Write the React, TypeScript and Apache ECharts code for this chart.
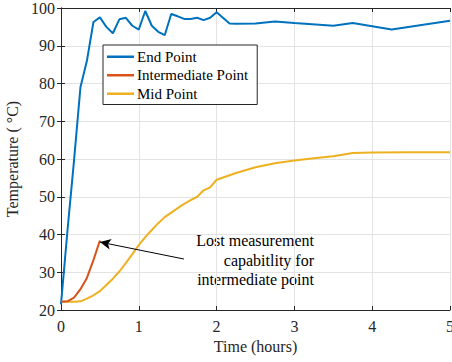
import React, { useEffect, useRef } from "react";
import * as echarts from "echarts";

const endTimes = [0, 0.083, 0.167, 0.25, 0.333, 0.417, 0.5, 0.583, 0.667, 0.75, 0.833, 0.917, 1.0, 1.083, 1.167, 1.25, 1.333, 1.417, 1.5, 1.583, 1.667, 1.75, 1.833, 1.917, 2.0, 2.167, 2.25, 2.5, 2.75, 3.0, 3.5, 3.75, 4.25, 5.0];
const endValues = [21.5, 41, 59.5, 79, 86, 96.3, 97.5, 95, 93.3, 97, 97.4, 95.3, 94.3, 99.2, 95.3, 93.7, 92.8, 98.4, 97.8, 97.1, 97.1, 97.4, 96.8, 97.4, 98.9, 95.9, 95.85, 95.9, 96.4, 96.0, 95.3, 96.0, 94.3, 96.6];

const interTimes = [0, 0.083, 0.167, 0.25, 0.333, 0.417, 0.5];
const interValues = [22.2, 22.3, 23.3, 25.5, 28.5, 33.2, 38.4];

const midTimes = [0, 0.083, 0.167, 0.25, 0.333, 0.417, 0.5, 0.583, 0.667, 0.75, 0.833, 0.917, 1.0, 1.083, 1.167, 1.25, 1.333, 1.417, 1.5, 1.583, 1.667, 1.75, 1.833, 1.917, 2.0, 2.25, 2.5, 2.75, 3.0, 3.25, 3.5, 3.75, 4.0, 4.5, 5.0];
const midValues = [22.2, 22.2, 22.2, 22.3, 23.0, 23.9, 25.0, 26.6, 28.3, 30.2, 32.4, 34.8, 37.2, 39.3, 41.2, 43.0, 44.6, 45.8, 47.0, 48.1, 49.1, 50.0, 51.7, 52.5, 54.5, 56.3, 57.8, 58.9, 59.6, 60.2, 60.7, 61.6, 61.7, 61.8, 61.8];

const seriesNames = ["End Point", "Intermediate Point", "Mid Point"];
const xTitle = "Time (hours)";
const yTitle = "Temperature ( °C)";
const annotationLines = ["Lost measurement", "capabitlity for", "intermediate point"];
const arrowFrom = [1.58, 33.5];
const arrowTo = [0.5, 38.0];

const FONT = "Liberation Serif";
const DARK = "#262626";
const GRID = "#e3e3e3";

const zip = (xs: number[], ys: number[]) => xs.map((x, i) => [x, ys[i]]);

export default function App() {
  const ref = useRef<HTMLDivElement>(null);
  useEffect(() => {
    if (!ref.current) return;
    const chart = echarts.init(ref.current, undefined, { renderer: "svg" });
    const axisCommon = {
      axisLine: { show: true, lineStyle: { color: DARK, width: 1 } },
      axisTick: { show: true, inside: true, length: 4, lineStyle: { color: DARK } },
    };
    chart.setOption({
      animation: false,
      backgroundColor: "#ffffff",
      textStyle: { fontFamily: FONT },
      grid: { left: 61, right: 2, top: 8, bottom: 52, containLabel: false, outerBoundsMode: "none" },
      xAxis: [
        {
          type: "value",
          min: 0,
          max: 5,
          interval: 1,
          name: xTitle,
          nameLocation: "middle",
          nameGap: 27,
          nameTextStyle: { fontFamily: FONT, fontSize: 16, color: DARK },
          ...axisCommon,
          axisLabel: { fontFamily: FONT, fontSize: 16, color: DARK, margin: 8, showMaxLabel: true },
          splitLine: { show: true, lineStyle: { color: GRID, width: 1 } },
        },
        {
          type: "value",
          position: "top",
          min: 0,
          max: 5,
          interval: 1,
          ...axisCommon,
          axisLabel: { show: false },
          splitLine: { show: false },
        },
      ],
      yAxis: [
        {
          type: "value",
          min: 20,
          max: 100,
          interval: 10,
          name: yTitle,
          nameLocation: "middle",
          nameGap: 34,
          nameTextStyle: { fontFamily: FONT, fontSize: 16, color: DARK },
          ...axisCommon,
          axisLabel: { fontFamily: FONT, fontSize: 16, color: DARK, margin: 6 },
          splitLine: { show: true, lineStyle: { color: GRID, width: 1 } },
        },
        {
          type: "value",
          position: "right",
          min: 20,
          max: 100,
          interval: 10,
          ...axisCommon,
          axisLabel: { show: false },
          splitLine: { show: false },
        },
      ],
      legend: {
        orient: "vertical",
        left: 103,
        top: 45,
        padding: [3, 9, 2, 4],
        itemGap: 1,
        itemWidth: 27,
        itemHeight: 2.5,
        icon: "rect",
        backgroundColor: "#ffffff",
        borderColor: DARK,
        borderWidth: 1,
        borderRadius: 0,
        textStyle: { fontFamily: FONT, fontSize: 15, color: "#000000", lineHeight: 17.5, padding: [0, 0, 0, -2] },
        data: seriesNames,
      },
      series: [
        {
          name: seriesNames[0],
          type: "line",
          data: zip(endTimes, endValues),
          showSymbol: false,
          lineStyle: { color: "#0072BD", width: 2 },
          itemStyle: { color: "#0072BD" },
          z: 3,
        },
        {
          name: seriesNames[1],
          type: "line",
          data: zip(interTimes, interValues),
          showSymbol: false,
          lineStyle: { color: "#D95319", width: 2 },
          itemStyle: { color: "#D95319" },
          z: 3,
          markLine: {
            silent: true,
            animation: false,
            symbol: ["none", "arrow"],
            symbolSize: [8, 11],
            label: { show: false },
            lineStyle: { color: "#000000", width: 1, type: "solid" },
            data: [[{ coord: arrowFrom }, { coord: arrowTo }]],
          },
        },
        {
          name: seriesNames[2],
          type: "line",
          data: zip(midTimes, midValues),
          showSymbol: false,
          lineStyle: { color: "#EDB120", width: 2 },
          itemStyle: { color: "#EDB120" },
          z: 2,
        },
      ],
      graphic: [
        {
          type: "text",
          x: 314,
          y: 231,
          silent: true,
          style: {
            text: annotationLines.join("\n"),
            fill: "#000000",
            fontFamily: FONT,
            fontSize: 16,
            align: "right",
            verticalAlign: "top",
            lineHeight: 19.5,
          },
        },
      ],
    });
    return () => chart.dispose();
  }, []);
  return (
    <div
      ref={ref}
      style={{ position: "fixed", left: 0, top: 0, width: 452, height: 362 }}
    />
  );
}
